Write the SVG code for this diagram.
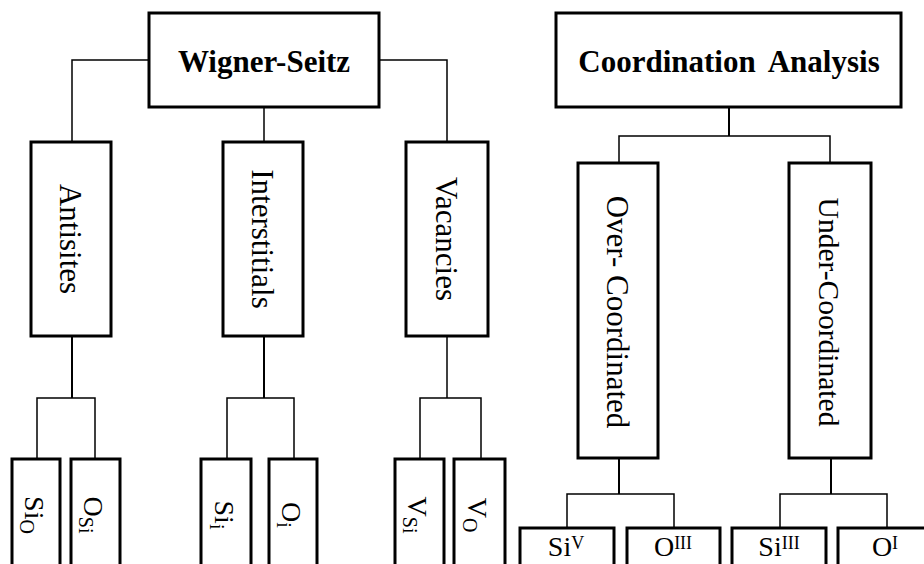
<svg xmlns="http://www.w3.org/2000/svg" width="924" height="564" viewBox="0 0 924 564">
<style>
.box{fill:#fff;stroke:#000;stroke-width:3}
.ln{fill:none;stroke:#000;stroke-width:1.5}
.lt{fill:none;stroke:#000;stroke-width:2}
text{font-family:"Liberation Serif","Times New Roman",serif;fill:#000}
.h{font-size:31px;font-weight:bold;text-anchor:middle}
.v{font-size:31px;text-anchor:middle}
.s{font-size:28px;text-anchor:middle}
.sub{font-size:20px}
.b{font-size:28px;text-anchor:middle}
.sup{font-size:18px}
</style>
<rect width="924" height="564" fill="#fff"/>
<g id="connectors">
<path class="ln" d="M149,60 H72 V142"/>
<path class="ln" d="M379,60 H447 V142"/>
<path class="ln" d="M264,107 V142"/>
<path class="lt" d="M72,336 V398"/>
<path class="ln" d="M37,459 V398 H95 V459"/>
<path class="lt" d="M264,336 V398"/>
<path class="ln" d="M227,459 V398 H294 V459"/>
<path class="ln" d="M447,336 V398"/>
<path class="ln" d="M420,459 V398 H481 V459"/>
<path class="lt" d="M729,107 V136"/>
<path class="ln" d="M619,163 V136 H830 V163"/>
<path class="lt" d="M619,458 V494"/>
<path class="ln" d="M567,528 V494 H674 V528"/>
<path class="lt" d="M831,458 V494"/>
<path class="ln" d="M780,528 V494 H887 V528"/>
</g>
<g id="wigner-seitz">
<rect class="box" x="149" y="13" width="230" height="94"/>
<text class="h" x="264" y="72">Wigner-Seitz</text>
</g>
<g id="coordination-analysis">
<rect class="box" x="556" y="13" width="345" height="94"/>
<text class="h" x="729" y="72" word-spacing="6">Coordination Analysis</text>
</g>
<g id="antisites">
<rect class="box" x="31" y="142" width="80" height="194"/>
<text class="v" transform="translate(71,239) rotate(90)" x="0" y="11">Antisites</text>
</g>
<g id="interstitials">
<rect class="box" x="223" y="142" width="80" height="194"/>
<text class="v" transform="translate(263,239) rotate(90)" x="0" y="11">Interstitials</text>
</g>
<g id="vacancies">
<rect class="box" x="406" y="142" width="82" height="194"/>
<text class="v" transform="translate(447,239) rotate(90)" x="0" y="11">Vacancies</text>
</g>
<g id="over-coordinated">
<rect class="box" x="578" y="163" width="80" height="295"/>
<text class="v" transform="translate(618,312) rotate(90)" x="0" y="11">Over- Coordinated</text>
</g>
<g id="under-coordinated">
<rect class="box" x="789" y="163" width="82" height="295"/>
<text class="v" style="font-size:29.5px" transform="translate(830,312) rotate(90)" x="0" y="11">Under-Coordinated</text>
</g>
<g id="si-o">
<rect class="box" x="12" y="459" width="48" height="120"/>
<text class="s" transform="translate(36,515) rotate(90)" x="0" y="11">Si<tspan class="sub" dy="5">O</tspan></text>
</g>
<g id="o-si">
<rect class="box" x="71" y="459" width="49" height="120"/>
<text class="s" transform="translate(95,515) rotate(90)" x="0" y="11">O<tspan class="sub" dy="5">Si</tspan></text>
</g>
<g id="si-i">
<rect class="box" x="201" y="459" width="50" height="120"/>
<text class="s" transform="translate(226,515) rotate(90)" x="0" y="11">Si<tspan class="sub" dy="5">i</tspan></text>
</g>
<g id="o-i">
<rect class="box" x="269" y="459" width="48" height="120"/>
<text class="s" transform="translate(293,515) rotate(90)" x="0" y="11">O<tspan class="sub" dy="5">i</tspan></text>
</g>
<g id="v-si">
<rect class="box" x="395" y="459" width="49" height="120"/>
<text class="s" transform="translate(419,515) rotate(90)" x="0" y="11">V<tspan class="sub" dy="5">Si</tspan></text>
</g>
<g id="v-o">
<rect class="box" x="454" y="459" width="51" height="120"/>
<text class="s" transform="translate(479,515) rotate(90)" x="0" y="11">V<tspan class="sub" dy="5">O</tspan></text>
</g>
<g id="si-v">
<rect class="box" x="520" y="528" width="94" height="60"/>
<text class="b" x="566" y="556">Si<tspan class="sup" dy="-7">V</tspan></text>
</g>
<g id="o-iii">
<rect class="box" x="627" y="528" width="93" height="60"/>
<text class="b" x="673" y="556">O<tspan class="sup" dy="-7">III</tspan></text>
</g>
<g id="si-iii">
<rect class="box" x="732" y="528" width="94" height="60"/>
<text class="b" x="779" y="556">Si<tspan class="sup" dy="-7">III</tspan></text>
</g>
<g id="o-i-coord">
<rect class="box" x="838" y="528" width="100" height="60"/>
<text class="b" x="885" y="556">O<tspan class="sup" dy="-7">I</tspan></text>
</g>
</svg>
